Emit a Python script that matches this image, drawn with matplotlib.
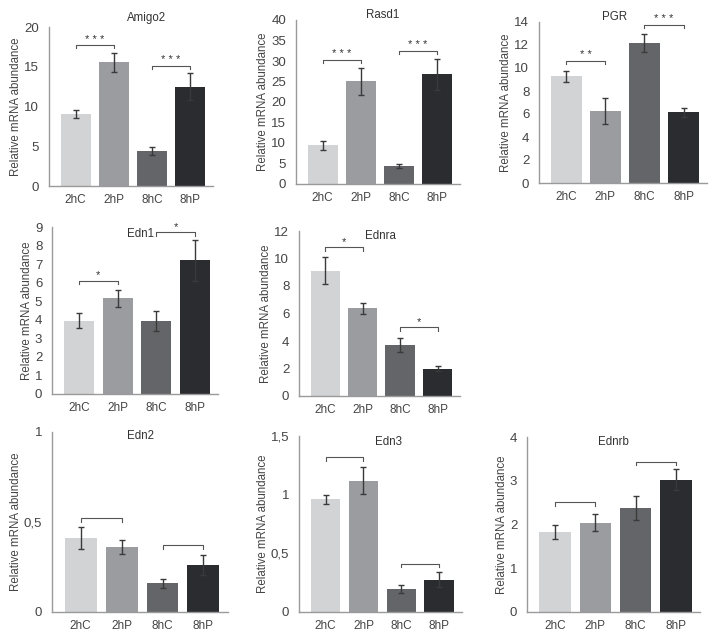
import matplotlib
matplotlib.use('Agg')
from matplotlib import pyplot as plt
from matplotlib.ticker import FuncFormatter

plt.rcParams['font.family'] = ['Liberation Sans', 'DejaVu Sans']

# Datos
grupos = ['2hC', '2hP', '8hC', '8hP']
colores = ['#d2d3d5', '#9b9c9f', '#646568', '#2b2c30']

amigo2_media = [9.06, 15.55, 4.4, 12.5]
amigo2_err = [0.5, 1.2, 0.45, 1.7]
rasd1_media = [9.4, 25.0, 4.46, 26.8]
rasd1_err = [1.05, 3.2, 0.5, 3.8]
pgr_media = [9.28, 6.26, 12.17, 6.14]
pgr_err = [0.48, 1.1, 0.77, 0.4]
edn1_media = [3.95, 5.15, 3.94, 7.21]
edn1_err = [0.4, 0.45, 0.55, 1.1]
ednra_media = [9.1, 6.37, 3.73, 2.0]
ednra_err = [0.98, 0.39, 0.5, 0.2]
edn2_media = [0.41, 0.36, 0.16, 0.26]
edn2_err = [0.06, 0.04, 0.025, 0.055]
edn3_media = [0.96, 1.12, 0.196, 0.276]
edn3_err = [0.037, 0.115, 0.032, 0.065]
ednrb_media = [1.83, 2.04, 2.38, 3.02]
ednrb_err = [0.16, 0.19, 0.27, 0.24]

# Corchetes de significancia: (barra inicio, barra fin, altura, texto)
amigo2_sig = [(0, 1, 17.7, '***'), (2, 3, 15.1, '***')]
rasd1_sig = [(0, 1, 30.3, '***'), (2, 3, 32.5, '***')]
pgr_sig = [(0, 1, 10.6, '**'), (2, 3, 13.77, '***')]
edn1_sig = [(0, 1, 6.1, '*'), (2, 3, 8.71, '*')]
ednra_sig = [(0, 1, 10.8, '*'), (2, 3, 5.0, '*')]
edn2_sig = [(0, 1, 0.52, ''), (2, 3, 0.37, '')]
edn3_sig = [(0, 1, 1.32, ''), (2, 3, 0.41, '')]
ednrb_sig = [(0, 1, 2.51, ''), (2, 3, 3.43, '')]

ymax = [20, 40, 14, 9, 12, 1, 1.5, 4]
ypaso = [5, 5, 2, 1, 2, 0.5, 0.5, 1]

paneles = [
    ('Amigo2', amigo2_media, amigo2_err, amigo2_sig),
    ('Rasd1', rasd1_media, rasd1_err, rasd1_sig),
    ('PGR', pgr_media, pgr_err, pgr_sig),
    ('Edn1', edn1_media, edn1_err, edn1_sig),
    ('Ednra', ednra_media, ednra_err, ednra_sig),
    ('Edn2', edn2_media, edn2_err, edn2_sig),
    ('Edn3', edn3_media, edn3_err, edn3_sig),
    ('Ednrb', ednrb_media, ednrb_err, ednrb_sig),
]

# Posicion de cada eje en pixeles (izq, arriba, der, abajo) y del titulo
W, H = 717, 631
cajas = [(49, 27, 213, 186), (296, 20, 460, 184), (539, 22, 707, 183),
         (52, 227, 218, 394), (299, 231, 460, 396),
         (52, 432, 228, 612), (299, 436, 462, 612), (527, 437, 700, 612)]
titulos_pos = [(147, 18), (383, 15), (615, 17), (141, 234), (380, 236),
               (140, 436), (389, 442), (613, 442)]

fig = plt.figure(figsize=(W / 100, H / 100), dpi=100)

formato = FuncFormatter(lambda v, p: f'{v:g}'.replace('.', ','))

for k, (nombre, media, err, sig) in enumerate(paneles):
    l, t, r, b = cajas[k]
    ax = fig.add_axes([l / W, 1 - b / H, (r - l) / W, (b - t) / H])
    x = range(len(grupos))
    ax.bar(x, media, width=0.78, color=colores, zorder=2)
    ax.errorbar(x, media, yerr=err, fmt='none', ecolor='#3a3a3a',
                elinewidth=1, capsize=2.5, capthick=1, zorder=3)

    ax.set_xlim(-0.7, 3.6)
    ax.set_ylim(0, ymax[k])
    n = int(round(ymax[k] / ypaso[k]))
    ax.set_yticks([i * ypaso[k] for i in range(n + 1)])
    ax.yaxis.set_major_formatter(formato)
    ax.set_xticks(list(x))
    ax.set_xticklabels(grupos)
    ax.tick_params(length=0, colors='#444444')
    ax.tick_params(axis='x', labelsize=8.5, pad=6)
    ax.tick_params(axis='y', labelsize=9.5, pad=7)
    ax.set_ylabel('Relative mRNA abundance', fontsize=8.3, color='#444444',
                  labelpad=1.5)

    for lado in ['top', 'right']:
        ax.spines[lado].set_visible(False)
    for lado in ['left', 'bottom']:
        ax.spines[lado].set_color('#9a9a9a')
        ax.spines[lado].set_linewidth(1)

    # Corchetes
    caida = ymax[k] * 0.02
    for i, j, y, txt in sig:
        ax.plot([i, i, j, j], [y - caida, y, y, y - caida], color='#555555',
                lw=0.8, zorder=4)
        if txt:
            ax.text((i + j) / 2, y + caida * 0.2, ' '.join(txt), ha='center',
                    va='bottom', fontsize=8, color='#333333')

    tx, ty = titulos_pos[k]
    fig.text(tx / W, 1 - ty / H, nombre, ha='center', va='center',
             fontsize=8.3, color='#333333')

plt.savefig('out.png', dpi=100)
plt.close('all')
